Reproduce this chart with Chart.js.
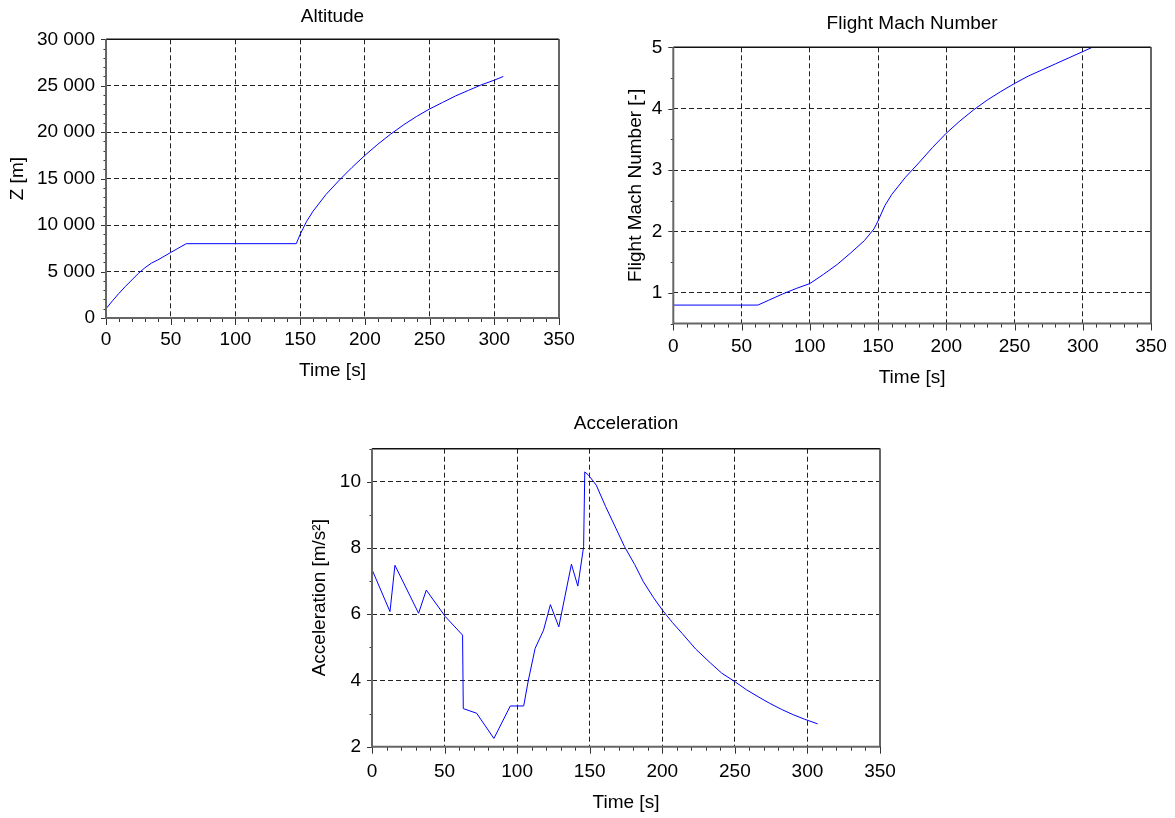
<!DOCTYPE html>
<html><head><meta charset="utf-8">
<script src="https://cdn.jsdelivr.net/npm/chart.js@4.4.0/dist/chart.umd.min.js"></script>
<style>
body{margin:0;background:#fff;}
#wrap{position:relative;width:1175px;height:818px;overflow:hidden;}
canvas{position:absolute;}
</style></head><body>
<div id="wrap">
<canvas id="c1" width="587" height="390" style="left:0px;top:0px"></canvas>
<canvas id="c2" width="585" height="390" style="left:590px;top:0px"></canvas>
<canvas id="c3" width="610" height="423" style="left:290px;top:395px"></canvas>
</div>
<script>
// ---------- tick labels ----------
const timeTicks = [0, 50, 100, 150, 200, 250, 300, 350];
const altitudeTicks = [0, 5000, 10000, 15000, 20000, 25000, 30000];
const machTicks = [1, 2, 3, 4, 5];
const accelTicks = [2, 4, 6, 8, 10];

// ---------- Altitude ----------
const altitudeTime = [0, 5, 10, 15, 20, 25, 30, 35, 40, 45, 50, 55, 62, 100, 147, 150, 155, 160, 170, 180, 190, 200, 210, 220, 230, 240, 250, 260, 270, 280, 290, 300, 307];
const altitudeZ = [1000, 1850, 2650, 3400, 4100, 4800, 5400, 5900, 6250, 6650, 7050, 7450, 8000, 8000, 8000, 9000, 10400, 11500, 13300, 14800, 16200, 17500, 18700, 19800, 20800, 21700, 22500, 23200, 23900, 24500, 25100, 25600, 26000];

// ---------- Flight Mach Number ----------
const machTime = [0, 62, 70, 80, 90, 100, 110, 120, 130, 140, 147, 150, 155, 160, 170, 180, 190, 200, 210, 220, 230, 240, 250, 260, 270, 280, 290, 300, 307];
const machValues = [0.8, 0.8, 0.88, 0.98, 1.07, 1.15, 1.30, 1.46, 1.65, 1.85, 2.04, 2.17, 2.42, 2.6, 2.88, 3.12, 3.37, 3.6, 3.8, 3.98, 4.14, 4.28, 4.41, 4.53, 4.63, 4.73, 4.83, 4.93, 5.0];

// ---------- Acceleration ----------
const accelTime = [0, 12.4, 15.8, 32.1, 37.4, 50.5, 62.4, 62.9, 72.1, 84, 95.3, 104.5, 107.7, 112.4, 118.2, 122.9, 128.7, 137.4, 141.8, 145.8, 146.6, 149.2, 154.5, 161, 168, 174, 181, 187, 194, 200, 207, 213.7, 223, 233.4, 241, 250.5, 258, 266, 274, 282, 290, 298, 307];
const accelValues = [7.35, 6.08, 7.48, 6.03, 6.73, 5.93, 5.37, 3.15, 3.01, 2.25, 3.23, 3.23, 4.0, 4.97, 5.52, 6.29, 5.62, 7.51, 6.85, 8.04, 10.3, 10.2, 9.9, 9.25, 8.6, 8.04, 7.5, 6.98, 6.5, 6.13, 5.75, 5.42, 4.95, 4.52, 4.22, 3.95, 3.72, 3.51, 3.31, 3.13, 2.97, 2.83, 2.69];

const FONT = '"Liberation Sans", Arial, Helvetica, sans-serif';
const SIZE = 19;

function fmtThousands(v) {
  return String(v).replace(/\B(?=(\d{3})+(?!\d))/g, ' ');
}

const framePlugin = {
  id: 'frame',
  afterDraw(chart, args, opts) {
    const {ctx, chartArea: a} = chart;
    const x = chart.scales.x, y = chart.scales.y;
    ctx.save();
    ctx.strokeStyle = '#333';
    ctx.lineWidth = 1;
    const isMajor = (scale, v) => scale.ticks.some(t => Math.abs(t.value - v) < 1e-9);
    for (let i = 0; ; i++) {
      const v = x.min + i * opts.xMinor;
      if (v > x.max + 1e-9) break;
      const px = Math.round(x.getPixelForValue(v)) + 0.5;
      const len = isMajor(x, v) ? 7 : 4;
      ctx.beginPath(); ctx.moveTo(px, a.bottom); ctx.lineTo(px, a.bottom + len); ctx.stroke();
    }
    for (let i = 0; ; i++) {
      const v = y.min + i * opts.yMinor;
      if (v > y.max + 1e-9) break;
      const py = Math.round(y.getPixelForValue(v)) + 0.5;
      const len = isMajor(y, v) ? 5 : 2.5;
      ctx.beginPath(); ctx.moveTo(a.left, py); ctx.lineTo(a.left - len, py); ctx.stroke();
    }
    // frame
    ctx.lineWidth = 1.5;
    ctx.strokeStyle = '#111';
    ctx.beginPath(); ctx.moveTo(a.left, a.top); ctx.lineTo(a.right, a.top); ctx.stroke();
    ctx.strokeStyle = '#666';
    ctx.lineWidth = 2;
    ctx.beginPath(); ctx.moveTo(a.right, a.top); ctx.lineTo(a.right, a.bottom); ctx.stroke();
    ctx.beginPath(); ctx.moveTo(a.left, a.top); ctx.lineTo(a.left, a.bottom); ctx.lineTo(a.right, a.bottom); ctx.stroke();
    ctx.restore();
  }
};

function makeChart(id, g) {
  const pts = g.xs.map((t, i) => ({x: t, y: g.ys[i]}));
  // x tick label centre = axis + (lineHeight/2); padding kept at 0 so it does not widen right margin
  const xTickLH = (SIZE * 0.6 + g.xTickPad) * 2 / SIZE;
  return new Chart(document.getElementById(id), {
    type: 'line',
    data: { datasets: [{ data: pts, borderColor: '#0000ff', borderWidth: 1, pointRadius: 0, tension: 0, fill: false }] },
    plugins: [framePlugin],
    options: {
      responsive: false,
      animation: false,
      events: [],
      layout: { padding: { left: 0, right: g.padRight, top: 0, bottom: 0 } },
      plugins: {
        legend: { display: false },
        tooltip: { enabled: false },
        title: {
          display: true, text: g.title, fullSize: false, color: '#000',
          font: { family: FONT, size: SIZE, weight: 'normal', lineHeight: 1.2 },
          padding: { top: g.titlePad[0], bottom: g.titlePad[1] }
        },
        frame: { xMinor: 10, yMinor: g.yMinor }
      },
      scales: {
        x: {
          type: 'linear', min: 0, max: 350,
          afterBuildTicks: s => { s.ticks = timeTicks.map(v => ({value: v})); },
          afterFit: s => { s.height = g.xHeight; },
          ticks: { color: '#000', font: { family: FONT, size: SIZE, lineHeight: xTickLH }, padding: 0, maxRotation: 0, autoSkip: false, callback: v => String(v) },
          grid: { color: '#222', lineWidth: 1, drawTicks: false },
          border: { display: false, dash: [5, 3] },
          title: { display: true, text: 'Time [s]', color: '#000', font: { family: FONT, size: SIZE, lineHeight: 1.2 }, padding: { top: 0, bottom: g.xTitlePad } }
        },
        y: {
          type: 'linear', min: g.yMin, max: g.yMax,
          afterBuildTicks: s => { s.ticks = g.yTicks.map(v => ({value: v})); },
          afterFit: s => { s.width = g.yWidth; },
          ticks: { color: '#000', font: { family: FONT, size: SIZE }, padding: 11, autoSkip: false, callback: g.yFmt },
          grid: { color: '#222', lineWidth: 1, drawTicks: false },
          border: { display: false, dash: [5, 3] },
          title: { display: true, text: g.yTitle, color: '#000', font: { family: FONT, size: SIZE, lineHeight: 1.2 }, padding: { top: g.yTitlePad, bottom: 0 } }
        }
      }
    }
  });
}

makeChart('c1', {
  title: 'Altitude', xs: altitudeTime, ys: altitudeZ,
  yMin: 0, yMax: 30000, yTicks: altitudeTicks, yMinor: 1000, yFmt: v => fmtThousands(v),
  yTitle: 'Z [m]', padRight: 28, yWidth: 106, xHeight: 72,
  titlePad: [5.6, 10.9], xTitlePad: 7.6, yTitlePad: 6.6, xTickPad: 10.6
});
makeChart('c2', {
  title: 'Flight Mach Number', xs: machTime, ys: machValues,
  yMin: 0.5, yMax: 5, yTicks: machTicks, yMinor: 0.5, yFmt: v => String(v),
  yTitle: 'Flight Mach Number [-]', padRight: 24, yWidth: 83.3, xHeight: 66.5,
  titlePad: [12.6, 11.9], xTitlePad: 0.6, yTitlePad: 34.6, xTickPad: 11.8
});
makeChart('c3', {
  title: 'Acceleration', xs: accelTime, ys: accelValues,
  yMin: 2, yMax: 11, yTicks: accelTicks, yMinor: 1, yFmt: v => String(v),
  yTitle: 'Acceleration [m/s²]', padRight: 20, yWidth: 82, xHeight: 71.3,
  titlePad: [17.6, 13.3], xTitlePad: 3.6, yTitlePad: 18.6, xTickPad: 13.6
});
</script>
</body></html>
